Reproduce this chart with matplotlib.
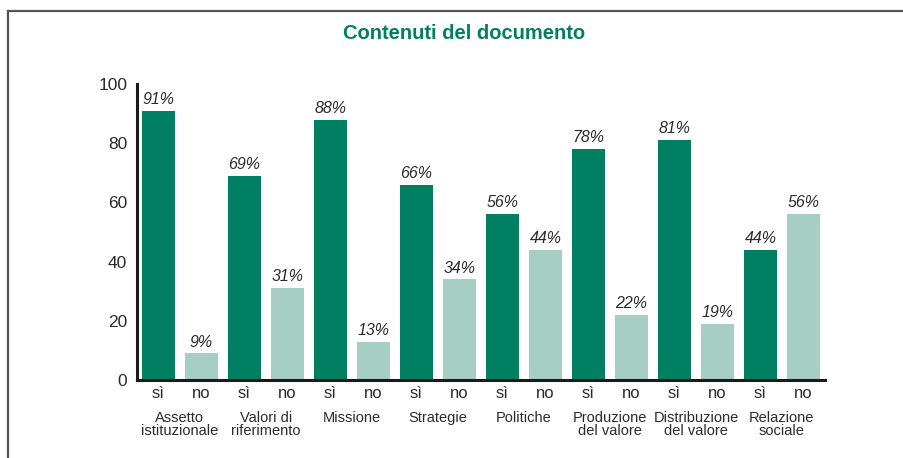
import numpy as np
import matplotlib
matplotlib.use("Agg")
import matplotlib.pyplot as plt
from matplotlib.lines import Line2D
import matplotlib.transforms as mtransforms

plt.rcParams['font.family'] = ['Liberation Sans', 'DejaVu Sans']

categories = ['Assetto\nistituzionale', 'Valori di\nriferimento', 'Missione', 'Strategie',
              'Politiche', 'Produzione\ndel valore', 'Distribuzione\ndel valore', 'Relazione\nsociale']
si_values = [91, 69, 88, 66, 56, 78, 81, 44]
no_values = [9, 31, 13, 34, 44, 22, 19, 56]
bar_labels = ['sì', 'no']
y_ticks = [0, 20, 40, 60, 80, 100]

dark = '#007f62'
light = '#a6cec4'
text_col = '#2b2b2b'

fig = plt.figure(figsize=(9.04, 4.58), dpi=100)
ax = fig.add_axes([0.1515, 0.1703, 0.761, 0.6463])

values = []
colors = []
for s, n in zip(si_values, no_values):
    values += [s, n]
    colors += [dark, light]
x = np.arange(len(values))

ax.bar(x, values, width=0.75, color=colors, zorder=2)
for xi, v in zip(x, values):
    ax.text(xi, v + 1.3, f'{v}%', ha='center', va='bottom', fontsize=11.5,
            style='italic', color=text_col)

ax.set_xlim(-0.5, 15.5)
ax.set_ylim(0, 100)
ax.set_yticks(y_ticks)
ax.set_yticklabels([str(t) for t in y_ticks], fontsize=12.5, color=text_col)
ax.set_xticks(x)
ax.set_xticklabels(bar_labels * len(categories), fontsize=12, color=text_col)
ax.tick_params(axis='both', length=0)
ax.tick_params(axis='y', pad=7)
ax.tick_params(axis='x', pad=4)

for sp in ['top', 'right']:
    ax.spines[sp].set_visible(False)
for sp in ['left', 'bottom']:
    ax.spines[sp].set_linewidth(2.2)
    ax.spines[sp].set_color('#1a1a1a')

trans = mtransforms.blended_transform_factory(ax.transData, ax.transAxes)
for i, cat in enumerate(categories):
    ax.text(2 * i + 0.5, -0.105, cat, transform=trans, ha='center', va='top',
            fontsize=10.5, color=text_col, linespacing=0.9)

fig.text(0.513, 0.927, 'Contenuti del documento', ha='center', va='center',
         fontsize=14.5, fontweight='bold', color='#00805f')

# frame lines (top and left only)
fig.add_artist(Line2D([8 / 904, 1], [1 - 11 / 458, 1 - 11 / 458], color='#555555',
                      linewidth=1.6, transform=fig.transFigure))
fig.add_artist(Line2D([8 / 904, 8 / 904], [0, 1 - 11 / 458], color='#555555',
                      linewidth=1.6, transform=fig.transFigure))

fig.savefig('out.png', dpi=100)
